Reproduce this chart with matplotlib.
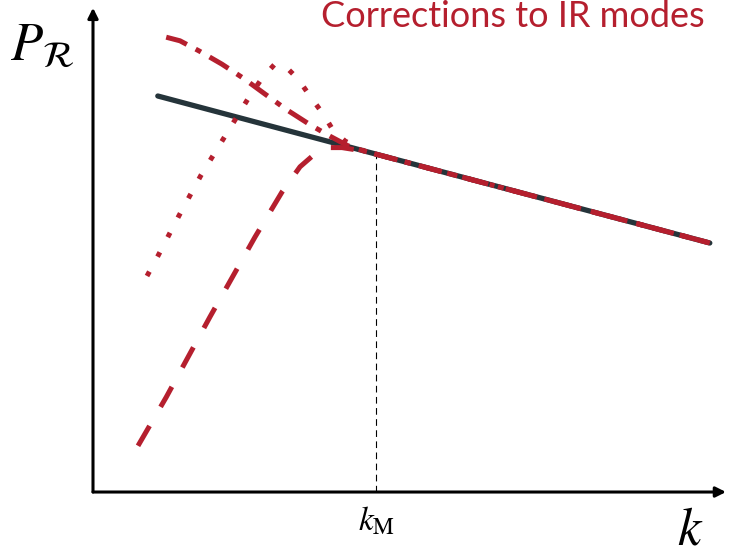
import matplotlib.pyplot as plt

# schematic units: x ~ ln k, y ~ ln P (arbitrary)
base_x = [1.08, 10.28]
base_y = [6.60, 4.15]

# IR-corrected spectra, all merging into the base line at k_M
dashed_x = [0.75, 1.22, 1.95, 2.70, 3.15, 3.45, 3.68, 3.90, 4.15, 4.53, 10.28]
dashed_y = [0.77, 1.58, 2.92, 4.25, 5.00, 5.42, 5.62, 5.74, 5.74, 5.68, 4.15]

dotted_x = [0.90, 1.08, 1.43, 1.80, 2.20, 2.60, 2.82, 3.02, 3.20, 3.42, 3.63, 3.85, 4.00, 4.20, 4.53, 10.28]
dotted_y = [3.60, 3.93, 4.60, 5.28, 5.93, 6.58, 6.90, 7.12, 7.10, 6.88, 6.58, 6.28, 6.03, 5.85, 5.68, 4.15]

dashdot_x = [1.22, 1.45, 1.77, 2.15, 2.50, 2.87, 3.23, 3.62, 3.95, 4.25, 4.53, 10.28]
dashdot_y = [7.58, 7.52, 7.35, 7.13, 6.90, 6.63, 6.37, 6.12, 5.93, 5.77, 5.68, 4.15]

k_M = 4.72
k_M_y = 5.65

RED = "#b51f2e"
DARK = "#25343a"

plt.rcParams["mathtext.fontset"] = "stix"

fig = plt.figure(figsize=(7.29, 5.54), dpi=100)
ax = fig.add_axes([0, 0, 1, 1])
ax.set_xlim(-1.55, 10.6)
ax.set_ylim(-1.033, 8.2)
ax.axis("off")

# axes arrows
arrow = dict(arrowstyle="-|>,head_length=0.6,head_width=0.3", color="black", lw=2.2,
             shrinkA=0, shrinkB=0)
ax.annotate("", xy=(10.55, 0), xytext=(0, 0), arrowprops=arrow)
ax.annotate("", xy=(0, 8.07), xytext=(0, 0), arrowprops=arrow)

ax.plot([k_M, k_M], [0, k_M_y], color="black", lw=0.8, ls=(0, (6, 4)), zorder=1)

ax.plot(base_x, base_y, color=DARK, lw=3.8, solid_capstyle="round", zorder=2)

ax.plot(dashed_x, dashed_y, color=RED, lw=3.6, ls=(0, (4.6, 4.4)),
        dash_capstyle="butt", zorder=3)
ax.plot(dotted_x, dotted_y, color=RED, lw=3.6, ls=(0, (1.0, 3.4)),
        dash_capstyle="butt", zorder=3)
ax.plot(dashdot_x, dashdot_y, color=RED, lw=3.6, ls=(0, (4.4, 2.0, 1.2, 2.0)),
        dash_capstyle="butt", zorder=3)

ax.text(k_M, -0.48, r"$k_{\rm M}$", fontsize=24, ha="center", va="center")
ax.text(9.95, -0.62, r"$k$", fontsize=38, ha="center", va="center")
ax.text(-1.38, 7.45, r"$P_{\mathcal{R}}$", fontsize=38, ha="left", va="center")

ax.text(10.20, 7.93, "Corrections to IR modes", color=RED, fontsize=26,
        family="Lato", ha="right", va="center")

fig.savefig("out.png", dpi=100)
